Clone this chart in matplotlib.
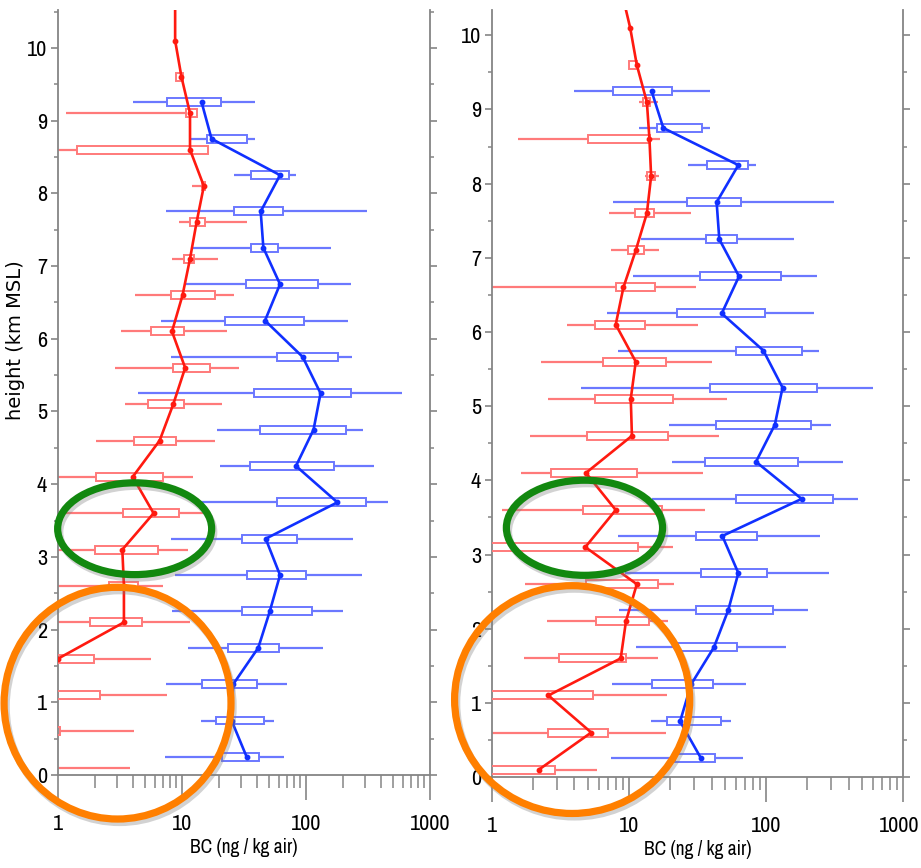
# python 3
# BC vertical profiles, two panels, with highlight ellipses

import os
import numpy as np
import matplotlib
matplotlib.use("Agg")
import matplotlib.pyplot as plt
import matplotlib.patheffects as pe
import matplotlib.transforms as mtransforms
from matplotlib.patches import Ellipse
from matplotlib.ticker import MultipleLocator, NullFormatter
from matplotlib import font_manager

nan = np.nan

# ---- data (ng / kg air vs km MSL) ----
red_heights = [0.1, 0.6, 1.1, 1.6, 2.1, 2.6, 3.1, 3.6, 4.1, 4.6, 5.1,
               5.6, 6.1, 6.6, 7.1, 7.6, 8.1, 8.6, 9.1, 9.6, 10.1, 10.6]
blue_heights = [0.25, 0.75, 1.25, 1.75, 2.25, 2.75, 3.25, 3.75, 4.25, 4.75,
                5.25, 5.75, 6.25, 6.75, 7.25, 7.75, 8.25, 8.75, 9.25]

# left panel, red
red_l_wlo = [0.5, 0.5, 0.5, 0.5, 0.5, 0.5, 0.5, 1.14, 0.5, 2.04, 3.45,
             2.9, 3.2, 4.2, 8.3, 9.5, 12.1, 0.5, 1.16, 8.9, nan, nan]
red_l_blo = [0.3, 0.5, 0.5, 0.5, 1.81, 2.6, 1.98, 3.34, 2.04, 4.1, 5.3,
             8.4, 5.6, 8.1, 10.4, 11.5, 14.6, 1.43, 10.7, 8.9, nan, nan]
red_l_med = [0.5, 0.7, 0.5, 1.0, 3.4, 3.4, 3.3, 5.9, 4.0, 6.6, 8.5,
             10.6, 8.3, 10.1, 11.6, 13.1, 15.0, 11.6, 11.6, 9.9, 8.8, 8.8]
red_l_bhi = [0.8, 1.03, 2.2, 1.96, 4.8, 4.4, 6.4, 9.5, 7.0, 8.9, 10.3,
             16.9, 10.3, 18.4, 12.5, 15.3, 15.3, 16.3, 13.1, 10.1, nan, nan]
red_l_whi = [3.8, 4.1, 7.5, 5.6, 11.6, 7.0, 11.1, 14.9, 12.3, 18.4, 21.1,
             28.8, 23.2, 26.4, 19.6, 33.6, 15.5, 16.3, 13.1, 10.1, nan, nan]

# left panel, blue
blue_l_wlo = [7.3, 14.2, 7.4, 11.2, 8.3, 8.8, 8.1, 14.0, 20.2, 19.3,
              4.4, 8.1, 6.8, 10.8, 12.2, 7.4, 26.4, 11.5, 4.0]
blue_l_blo = [21.1, 18.7, 14.6, 23.3, 30.6, 33.2, 30.3, 58.7, 35.1, 42.6,
              38.3, 58.7, 22.4, 32.6, 35.8, 26.3, 36.0, 15.8, 7.6]
blue_l_med = [33.2, 25.1, 25.9, 41.2, 51, 61.7, 47.3, 179, 83, 115,
              131, 94, 46.7, 61.7, 45.3, 43.1, 61.7, 17.3, 14.4]
blue_l_bhi = [41.8, 46.2, 40.5, 60.9, 111, 100, 84, 305, 168, 209,
              231, 180, 96.8, 126, 59.8, 65.3, 73.4, 33.6, 20.5]
blue_l_whi = [66.5, 55.2, 69.8, 138, 200, 281, 241, 455, 356, 290,
              591, 236, 219, 231, 158, 312, 82.6, 38.8, 38.8]

# right panel, red
red_r_wlo = [0.5, 0.5, 0.5, 1.71, 2.5, 1.74, 0.5, 1.18, 1.62, 1.89, 2.55,
             2.28, 3.5, 0.5, 7.4, 7.1, 13.1, 1.54, 11.9, 10.05, nan, nan]
red_r_blo = [0.5, 2.55, 0.5, 3.08, 5.7, 4.85, 0.5, 4.6, 2.68, 4.9, 5.6,
             6.5, 5.6, 8.0, 9.9, 11.1, 13.6, 5.0, 12.7, 10.05, nan, nan]
red_r_med = [2.2, 5.3, 2.58, 8.7, 9.5, 11.4, 4.8, 8.0, 4.85, 10.5, 10.3,
             11.2, 8.0, 9.1, 11.2, 13.5, 14.5, 14.1, 13.5, 11.4, 10.2, 8.8]
red_r_bhi = [2.88, 7.0, 5.5, 9.5, 14.1, 16.4, 11.7, 17.3, 11.4, 19.4, 21.1,
             18.6, 13.1, 15.5, 12.9, 15.1, 15.5, 14.2, 14.2, 11.4, nan, nan]
red_r_whi = [5.8, 18.5, 18.8, 16.4, 19.4, 21.4, 21.1, 35.9, 34.5, 45.4, 51.6,
             40.2, 32.1, 30.7, 16.6, 28.4, 16.6, 16.8, 16.4, 11.4, nan, nan]

# right panel, blue
blue_r_wlo = [7.4, 14.4, 7.5, 11.2, 8.4, 9.35, 8.3, 14.6, 20.5, 19.6,
              4.47, 8.3, 6.9, 10.7, 12.2, 7.6, 26.8, 11.8, 4.0]
blue_r_blo = [21.7, 18.8, 14.8, 22.9, 30.8, 33.6, 30.7, 60.4, 35.9, 43.2,
              39, 60.1, 22.5, 33, 36.3, 26.6, 36.9, 15.9, 7.7]
blue_r_med = [33.6, 23.6, 28.4, 41.7, 53, 62.8, 48, 182, 84.5, 116,
              132, 95.6, 47.5, 63.5, 45.6, 43.6, 62.8, 17.8, 14.6]
blue_r_bhi = [42.4, 46.9, 41.3, 61.7, 113, 102, 86.4, 310, 172, 213,
              237, 184, 98.4, 128, 61.1, 65.7, 74.3, 33.9, 20.7]
blue_r_whi = [67.6, 55.6, 71.1, 139, 204, 288, 248, 467, 363, 297,
              601, 244, 224, 234, 161, 315, 84, 39, 39]

x_ticks = [1, 10, 100, 1000]
x_tick_labels = ["1", "10", "100", "1000"]
x_label = "BC (ng / kg air)"
y_label = "height (km MSL)"

# ---- fonts: a narrow face if one is around, else Liberation Sans ----
def find_narrow():
	for f in font_manager.fontManager.ttflist:
		base = os.path.basename(f.fname)
		if "Narrow" in base and "Bold" not in base and "Italic" not in base:
			return font_manager.FontProperties(fname=f.fname)
	return None

_narrow = find_narrow()
if _narrow is not None:
	TICK_FP = _narrow.copy(); TICK_FP.set_size(16)
	XLAB_FP = _narrow.copy(); XLAB_FP.set_size(14)
	NUDGE = -2.5
else:
	TICK_FP = font_manager.FontProperties(family="Liberation Sans", size=14)
	XLAB_FP = font_manager.FontProperties(family="Liberation Sans", size=12)
	NUDGE = -5

AXIS_GRAY = "#858585"
RED, RED_LIGHT = "#ff1a10", "#ff7a7a"
BLUE, BLUE_LIGHT = "#1030ff", "#6b78ff"


def draw_profile(ax, h, wlo, blo, med, bhi, whi, col, light, box_h):
	h = np.asarray(h, float)
	wlo, blo, med, bhi, whi = (np.asarray(a, float) for a in (wlo, blo, med, bhi, whi))
	ok = np.isfinite(blo)
	ax.hlines(h[ok], wlo[ok], blo[ok], color=light, lw=1.6, zorder=2)
	ax.hlines(h[ok], bhi[ok], whi[ok], color=light, lw=1.6, zorder=2)
	ax.barh(h[ok], bhi[ok] - blo[ok], left=blo[ok], height=box_h,
	        facecolor="none", edgecolor=light, linewidth=1.4, zorder=3)
	ax.plot(med, h, color=col, lw=1.9, marker="o", ms=3.2, zorder=4)


def style_axes(ax, ytop, show_ylabel):
	ax.set_xscale("log")
	ax.set_xlim(1, 1000)
	ax.set_ylim(0, ytop)
	ax.set_xticks(x_ticks)
	ax.set_xticklabels(x_tick_labels)
	ax.xaxis.set_minor_formatter(NullFormatter())
	ax.set_yticks(range(0, 11))
	ax.yaxis.set_minor_locator(MultipleLocator(0.5))
	ax.spines["top"].set_visible(False)
	for s in ("left", "right", "bottom"):
		ax.spines[s].set_color(AXIS_GRAY)
		ax.spines[s].set_linewidth(1.3)
	ax.tick_params(axis="x", which="major", direction="out", length=18, width=1.2,
	               color=AXIS_GRAY, pad=10)
	ax.tick_params(axis="x", which="minor", direction="out", length=9, width=1.1,
	               color=AXIS_GRAY)
	ax.tick_params(axis="y", which="major", direction="out", length=5, width=1.2,
	               color=AXIS_GRAY, left=True, right=True, labelright=False, pad=3)
	ax.tick_params(axis="y", which="minor", direction="out", length=3, width=1.1,
	               color=AXIS_GRAY, left=True, right=True)
	for lbl in ax.get_xticklabels() + ax.get_yticklabels():
		lbl.set_fontproperties(TICK_FP)
	ax.set_xlabel(x_label, fontproperties=XLAB_FP, labelpad=3)
	if show_ylabel:
		ax.set_ylabel(y_label, fontsize=14, family="DejaVu Sans")
		ax.yaxis.set_label_coords(-0.088, 0.569)


def ring(ax, cx, cy, w, h, color):
	e = Ellipse((cx, cy), w, h, transform=ax.transAxes, fill=False, edgecolor=color,
	            lw=5.2, clip_on=False, zorder=10)
	e.set_path_effects([pe.SimpleLineShadow(offset=(1.5, -2.5), shadow_color="gray", alpha=0.35),
	                    pe.Normal()])
	ax.add_patch(e)


fig = plt.figure(figsize=(9.21, 8.68), dpi=100)
ax_l = fig.add_axes([0.0630, 0.1071, 0.4039, 0.8813])
ax_r = fig.add_axes([0.5342, 0.1048, 0.4463, 0.8836])

draw_profile(ax_l, red_heights, red_l_wlo, red_l_blo, red_l_med, red_l_bhi, red_l_whi,
             RED, RED_LIGHT, 0.11)
draw_profile(ax_l, blue_heights, blue_l_wlo, blue_l_blo, blue_l_med, blue_l_bhi, blue_l_whi,
             BLUE, BLUE_LIGHT, 0.11)
draw_profile(ax_r, red_heights, red_r_wlo, red_r_blo, red_r_med, red_r_bhi, red_r_whi,
             RED, RED_LIGHT, 0.108)
draw_profile(ax_r, blue_heights, blue_r_wlo, blue_r_blo, blue_r_med, blue_r_bhi, blue_r_whi,
             BLUE, BLUE_LIGHT, 0.108)

style_axes(ax_l, 10.52, True)
style_axes(ax_r, 10.34, False)

# last x label of the right panel sits at the figure edge: nudge it left a bit
last = ax_r.xaxis.get_major_ticks()[-1].label1
last.set_transform(last.get_transform()
                   + mtransforms.ScaledTranslation(NUDGE / 72, 0, fig.dpi_scale_trans))

GREEN, ORANGE = "#12880f", "#ff7f00"
ring(ax_l, 0.206, 0.322, 0.414, 0.120, GREEN)
ring(ax_l, 0.160, 0.094, 0.610, 0.303, ORANGE)
ring(ax_r, 0.225, 0.325, 0.380, 0.124, GREEN)
ring(ax_r, 0.195, 0.101, 0.572, 0.297, ORANGE)

fig.savefig("out.png", dpi=100)
